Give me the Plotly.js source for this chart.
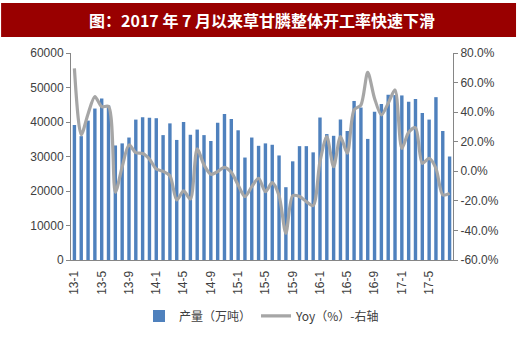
<!DOCTYPE html>
<html><head><meta charset="utf-8">
<script src="https://cdn.plot.ly/plotly-3.0.1.min.js"></script>
<style>html,body{margin:0;padding:0;background:#fff}#chart{width:520px;height:364px}</style>
</head><body><div id="chart"></div>
<script>
var months = ["13-1","13-2","13-3","13-4","13-5","13-6","13-7","13-8","13-9","13-10","13-11","13-12",
"14-1","14-2","14-3","14-4","14-5","14-6","14-7","14-8","14-9","14-10","14-11","14-12",
"15-1","15-2","15-3","15-4","15-5","15-6","15-7","15-8","15-9","15-10","15-11","15-12",
"16-1","16-2","16-3","16-4","16-5","16-6","16-7","16-8","16-9","16-10","16-11","16-12",
"17-1","17-2","17-3","17-4","17-5","17-6","17-7","17-8"];
var output = [39100,35900,40400,43900,46800,44800,33200,33800,35500,40700,41400,41200,
41100,36200,39600,34800,40000,36300,37800,36200,34500,39800,42300,40900,
37600,29700,35500,33100,33800,33400,30300,21100,28600,33000,33000,31200,
41300,36500,36000,40700,37400,46100,44200,35100,43000,45200,47900,47800,
47700,45900,46700,42600,40700,47200,37400,30000];
var yoy = [69.6,24.8,38.8,50.5,43.7,43.8,-14.2,3,17.8,12.6,12,8.2,
1.5,0,-3,-19.4,-13.3,-18.7,15.1,4.3,-2,-0.2,2.7,-0.7,
-9.3,-17.1,-10.4,-4.7,-13.8,-7.7,-16.5,-41.9,-16.5,-17.1,-20.5,-23.2,
6.5,23.4,3.1,23.4,12.2,41.5,44.8,66.9,49.3,38.1,46,55,
15.5,26.4,29.5,5.4,8.8,2,-16,-14.9];
var labelMonths = ["13-1","13-5","13-9","14-1","14-5","14-9","15-1","15-5","15-9","16-1","16-5","16-9","17-1","17-5"];
var rightVals = [-60,-40,-20,0,20,40,60,80];
var rightText = ["-60.0%","-40.0%","-20.0%","0.0%","20.0%","40.0%","60.0%","80.0%"];
var boundaryTicks = [-0.5,3.5,7.5,11.5,15.5,19.5,23.5,27.5,31.5,35.5,39.5,43.5,47.5,51.5,55.5];

var axisGray = '#868686', txt = '#404040';
var traces = [
 {type:'bar', x:months, y:output, name:'产量（万吨）', marker:{color:'#4F81BD'}, xaxis:'x', yaxis:'y'},
 {type:'scatter', mode:'lines', x:months, y:yoy, name:'Yoy（%）-右轴', line:{color:'#A6A6A6', width:3.2, shape:'spline', smoothing:0.8}, xaxis:'x', yaxis:'y2'}
];
var layout = {
 width:520, height:364, margin:{l:71, r:67, t:53, b:104},
 paper_bgcolor:'#fff', plot_bgcolor:'#fff', bargap:0.5, showlegend:true,
 font:{family:'Liberation Sans, Arial, sans-serif', size:12, color:txt},
 xaxis:{type:'category', range:[-0.5,55.5], tickmode:'array', tickvals:labelMonths, ticktext:labelMonths,
   tickangle:-90, ticks:'', ticklabelstandoff:5, showline:true, linecolor:axisGray, showgrid:false, zeroline:false,
   tickfont:{size:12, color:txt}, fixedrange:true},
 xaxis2:{type:'linear', overlaying:'x', anchor:'y', side:'bottom', range:[-0.5,55.5], tickmode:'array',
   tickvals:boundaryTicks, showticklabels:false, ticks:'outside', ticklen:4, tickcolor:axisGray,
   showline:false, showgrid:false, zeroline:false},
 yaxis:{range:[0,60000], dtick:10000, tickformat:'d', showline:true, linecolor:axisGray, ticks:'outside',
   ticklen:4, tickcolor:axisGray, showgrid:false, zeroline:false, tickfont:{size:12, color:txt}},
 yaxis2:{overlaying:'y', side:'right', range:[-60,80], tickmode:'array', tickvals:rightVals, ticktext:rightText,
   showline:true, linecolor:axisGray, ticks:'outside', ticklen:4, tickcolor:axisGray, showgrid:false,
   zeroline:false, tickfont:{size:12, color:txt}},
 legend:{orientation:'h', x:0.5, xanchor:'center', y:-0.27, yanchor:'middle',
   font:{family:'Noto Sans CJK SC, sans-serif', size:12, color:txt}, bgcolor:'rgba(0,0,0,0)'},
 shapes:[{type:'rect', xref:'paper', yref:'paper', x0:-0.183, x1:1.165, y0:1.077, y1:1.2415,
   fillcolor:'#990000', line:{width:0}, layer:'below'}],
 annotations:[{xref:'paper', yref:'paper', x:0.5, y:1.159, xanchor:'center', yanchor:'middle', showarrow:false,
   text:'<b>图：2017 年 7 月以来草甘膦整体开工率快速下滑</b>',
   font:{family:'Noto Sans CJK SC, sans-serif', size:16, color:'#ffffff'}}]
};
Plotly.newPlot('chart', traces, layout, {displayModeBar:false, staticPlot:true});
</script></body></html>
